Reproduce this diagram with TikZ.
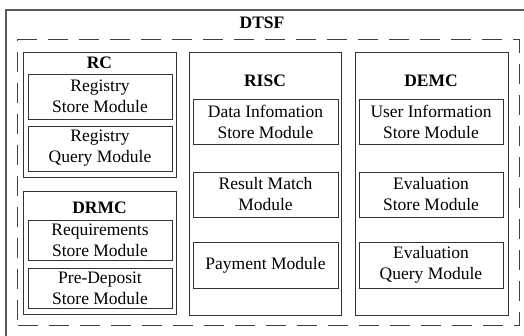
\documentclass[tikz,border=0pt]{standalone}
\usepackage{fontspec}
\setmainfont{Liberation Serif}
\begin{document}
\begin{tikzpicture}[x=1pt,y=-1pt,
  frame/.style={draw=black!80,line width=0.9pt,rectangle,inner sep=0pt},
  modbox/.style={frame,align=center,font=\fontsize{17.5}{21}\selectfont,inner sep=0pt},
  title/.style={font=\fontsize{17.5}{21}\selectfont\bfseries,inner sep=0pt},
  dashbox/.style={draw=black!75,line width=1pt,dash pattern=on 20pt off 11pt}]
\useasboundingbox (0,0) rectangle (524,335);
\fill[white] (0,0) rectangle (524,335);
% outer frame
\node[draw=black!65,line width=1.5pt,minimum width=540pt,minimum height=345pt,inner sep=0pt,anchor=north west] (outer) at (5,9) {};
\node[title] (dtsf) at (262,23) {DTSF};
\node[dashbox,minimum width=502pt,minimum height=286pt,inner sep=0pt,anchor=north west] (dash) at (17,39) {};
% RC
\node[frame,minimum width=153pt,minimum height=125pt,anchor=north west] (rc) at (23,52) {};
\node[title] (rct) at (99.5,63) {RC};
\node[modbox,minimum width=144pt,minimum height=45pt] (rc1) at (100,96.5) {Registry\\Store Module};
\node[modbox,minimum width=144pt,minimum height=45pt] (rc2) at (100,148.5) {Registry\\Query Module};
% DRMC
\node[frame,minimum width=153pt,minimum height=123pt,anchor=north west] (drmc) at (23,191) {};
\node[title] (drmct) at (99.5,208) {DRMC};
\node[modbox,minimum width=144pt,minimum height=40pt] (dr1) at (100,240) {Requirements\\Store Module};
\node[modbox,minimum width=144pt,minimum height=40pt] (dr2) at (100,288) {Pre-Deposit\\Store Module};
% RISC
\node[frame,minimum width=152pt,minimum height=263pt,anchor=north west] (risc) at (189,52) {};
\node[title] (risct) at (265,81) {RISC};
\node[modbox,minimum width=145pt,minimum height=45pt] (ri1) at (265.5,121.5) {Data Infomation\\Store Module};
\node[modbox,minimum width=145pt,minimum height=45pt] (ri2) at (265.5,194.5) {Result Match\\Module};
\node[modbox,minimum width=145pt,minimum height=46pt] (ri3) at (265.5,265) {Payment Module};
% DEMC
\node[frame,minimum width=153pt,minimum height=263pt,anchor=north west] (demc) at (355,52) {};
\node[title] (demct) at (431,81) {DEMC};
\node[modbox,minimum width=144pt,minimum height=45pt] (de1) at (431,121.5) {User Information\\Store Module};
\node[modbox,minimum width=144pt,minimum height=45pt] (de2) at (431,194.5) {Evaluation\\Store Module};
\node[modbox,minimum width=144pt,minimum height=46pt] (de3) at (431,265) {Evaluation\\Query Module};
\end{tikzpicture}
\end{document}
